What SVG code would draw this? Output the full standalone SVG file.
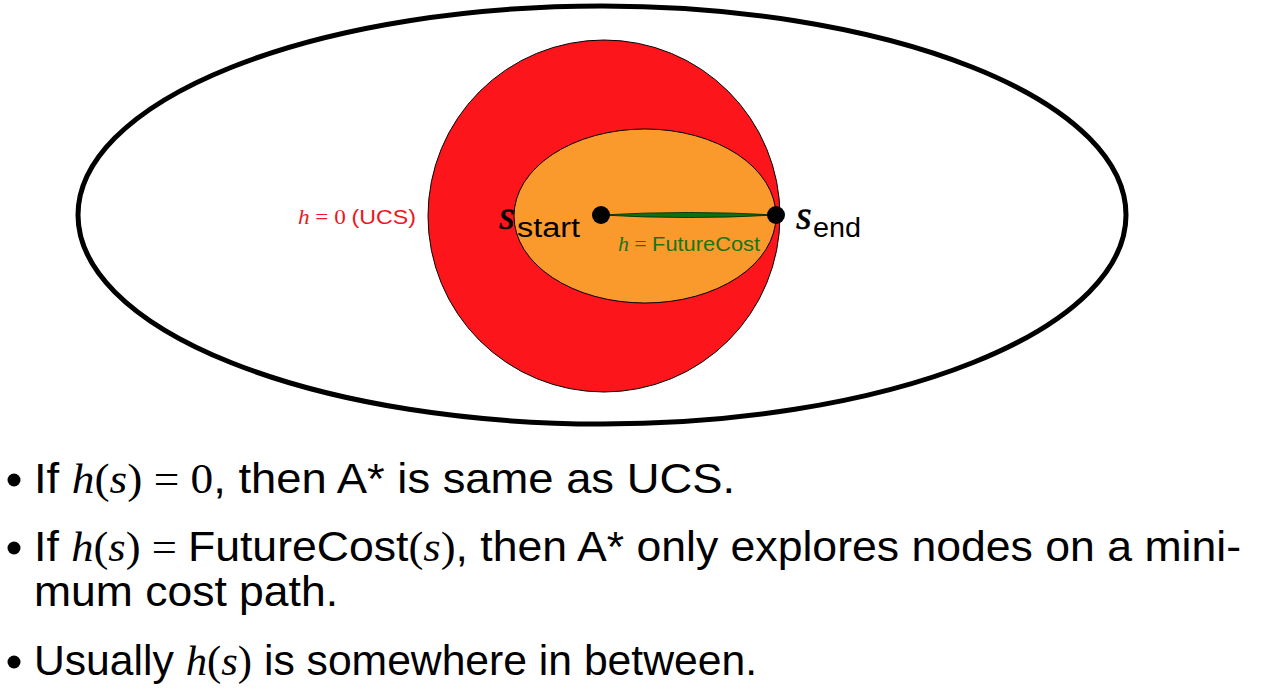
<svg xmlns="http://www.w3.org/2000/svg" width="1263" height="692" viewBox="0 0 1263 692">
<style>
.b{font-family:"Liberation Sans",Arial,sans-serif;font-size:42px;fill:#000}
.m{font-family:"Liberation Serif","Times New Roman",serif;font-style:italic}
.r{font-family:"Liberation Serif","Times New Roman",serif}
.lbl{font-family:"Liberation Sans",Arial,sans-serif;font-size:20px}
.s{font-family:"Liberation Serif",serif;font-style:italic;font-size:40px;stroke:#000;stroke-width:0.6}
.sub{font-family:"Liberation Sans",sans-serif;font-size:27px}
</style>
<rect width="1263" height="692" fill="#fff"/>
<g id="outer"><ellipse cx="602" cy="215" rx="524" ry="209" fill="none" stroke="#000" stroke-width="5"/></g>
<g id="ucs-region"><circle cx="604" cy="216" r="176" fill="#fc161c" stroke="#000" stroke-width="1"/></g>
<g id="astar-region"><ellipse cx="645" cy="216" rx="131" ry="87" fill="#fb9a2c" stroke="#000" stroke-width="1"/></g>
<g id="connectors"><path d="M601,215 Q688,210 776,215 Q688,220 601,215 Z" fill="#0f7011" stroke="#0a3a0a" stroke-width="1"/></g>
<g id="start"><circle cx="601" cy="215" r="9" fill="#000"/>
<text x="499" y="229" class="s">s</text>
<text x="517" y="237" class="sub" textLength="63" lengthAdjust="spacingAndGlyphs">start</text></g>
<g id="end"><circle cx="776" cy="215" r="9" fill="#000"/>
<text x="796" y="229" class="s">s</text>
<text x="813" y="237" class="sub" textLength="48" lengthAdjust="spacingAndGlyphs">end</text></g>
<g id="label-ucs"><text x="298" y="224" class="lbl" fill="#f0161c" textLength="118" lengthAdjust="spacingAndGlyphs"><tspan class="m">h</tspan><tspan class="r"> = 0 </tspan>(UCS)</text></g>
<g id="label-fc"><text x="618" y="251" class="lbl" fill="#157515" textLength="142" lengthAdjust="spacingAndGlyphs"><tspan class="m">h</tspan><tspan class="r"> = </tspan>FutureCost</text></g>
<g id="bullets">
<circle cx="14" cy="480" r="6.5"/>
<text x="34" y="493" class="b" textLength="701" lengthAdjust="spacingAndGlyphs">If <tspan class="m">h</tspan><tspan class="r">(</tspan><tspan class="m">s</tspan><tspan class="r">) = 0</tspan>, then A* is same as UCS.</text>
<circle cx="14" cy="548" r="6.5"/>
<text x="34" y="561" class="b" textLength="1207" lengthAdjust="spacingAndGlyphs">If <tspan class="m">h</tspan><tspan class="r">(</tspan><tspan class="m">s</tspan><tspan class="r">) = </tspan>FutureCost<tspan class="r">(</tspan><tspan class="m">s</tspan><tspan class="r">)</tspan>, then A* only explores nodes on a mini-</text>
<text x="34" y="606" class="b" textLength="304" lengthAdjust="spacingAndGlyphs">mum cost path.</text>
<circle cx="14" cy="662" r="6.5"/>
<text x="34" y="675" class="b" textLength="723" lengthAdjust="spacingAndGlyphs">Usually <tspan class="m">h</tspan><tspan class="r">(</tspan><tspan class="m">s</tspan><tspan class="r">)</tspan> is somewhere in between.</text>
</g>
</svg>
